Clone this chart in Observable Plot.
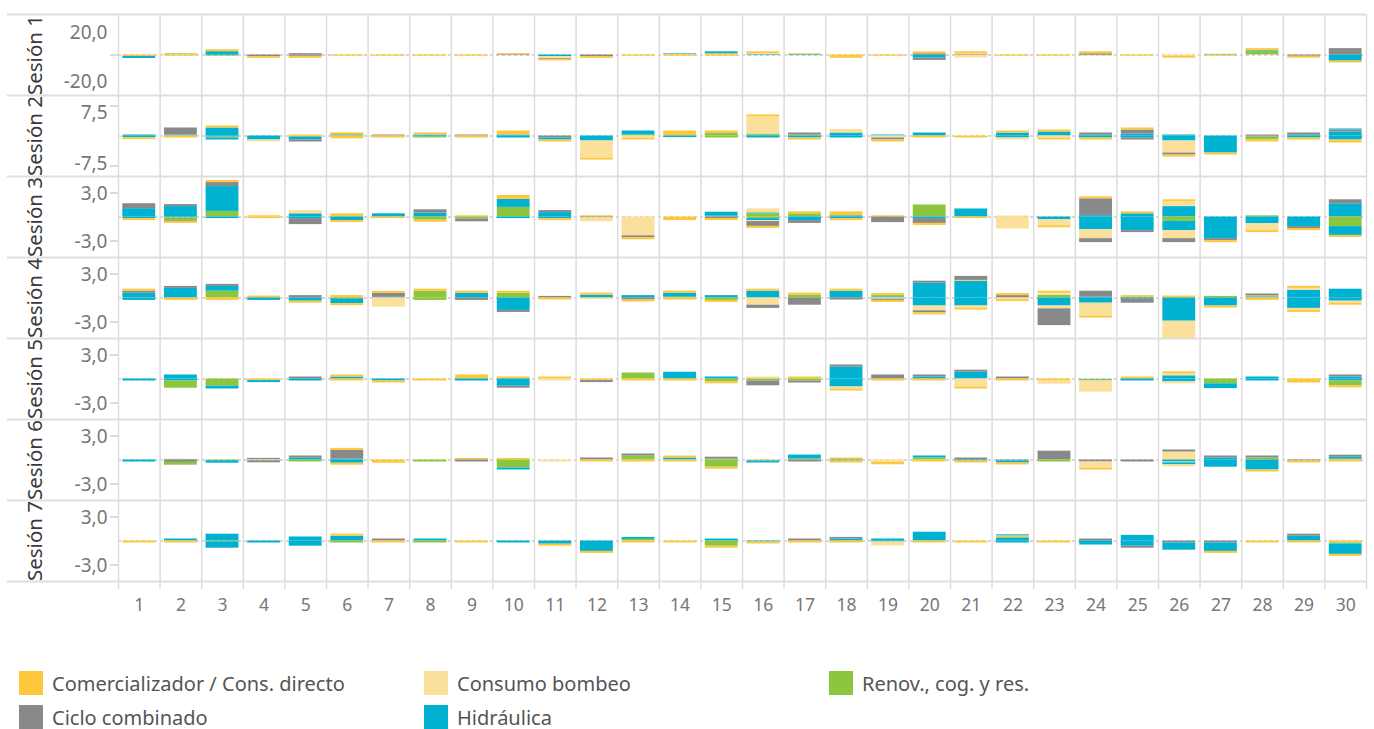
<!DOCTYPE html>
<html>
<head>
<meta charset="utf-8">
<script src="https://cdn.jsdelivr.net/npm/d3@7"></script>
<script src="https://cdn.jsdelivr.net/npm/@observablehq/plot@0.6"></script>
<style>
  body { margin: 0; background: #fff; font-family: 'Noto Sans', sans-serif; }
  #chart { padding-top: 14px; width: 1374px; }
  #chart svg { display: block; }
  #legend { display: grid; grid-template-columns: 405px 405px 405px; margin: 50px 0 0 19px; row-gap: 10px; }
  .item { display: flex; align-items: center; height: 24px; font-size: 20px; color: #555; white-space: nowrap; }
  .sw { width: 24px; height: 24px; margin-right: 9px; flex: none; }
</style>
</head>
<body>
<div id="chart"></div>
<div id="legend"></div>
<script>
// ---- categories ----
const days = d3.range(1, 31);
const categories = ["Comercializador / Cons. directo", "Consumo bombeo", "Renov., cog. y res.", "Ciclo combinado", "Hidráulica"];
const codes = ["Y", "B", "R", "G", "H"];
const colors = ["#fec83c", "#fae09b", "#8cc63f", "#898989", "#00b1d1"];
const sessions = ["Sesión 1", "Sesión 2", "Sesión 3", "Sesión 4", "Sesión 5", "Sesión 6", "Sesión 7"];

// ---- values: per day, segments listed from zero outward (code + value) ----
const sesion1 = ["Y-1.2 H-1.6","Y0.5 R0.5 Y-1","H2.7 Y1.6 H-0.5 R-0.5","G-1.4 Y-1.4","G1.1 G-1.1 Y-1.6","Y-1","Y-1","Y-1","Y-1","Y1.1 G-0.5",
  "H-1.4 B-1.6 G-0.6 Y-1.2","G-1.4 Y-1.4","Y-1","Y0.5 H0.5 Y-1","Y1 H1.6 Y-1","B1 Y1.6 H-0.5","Y1 H-0.5","Y-2.7","Y-1","G1 Y1.6 H-2.5 G-1.9",
  "B1 Y1.6 G-0.5 B-2","Y-1","Y-1","G1 Y1.6 G-0.5 B-0.5","Y-1","B-1 Y-1.6","H0.5 Y-1","R3.3 H0.5 Y1.4","G-1 Y-1.6","G5.2 H-5 Y-1.5"];
const sesion2 = ["H0.25 H-0.4 Y-0.5","H0.25 G1.75 Y-0.5","H2 Y0.5 H-0.25 R-0.25 H-0.5","H-1 B-0.5","Y0.25 Y-0.25 H-0.75 G-0.5","H0.3 Y0.5 Y-0.7","G0.25 Y-0.5","H0.25 Y0.5 H-0.25 R-0.25","G0.25 Y-0.5","H0.25 Y1 H-0.5",
  "G-0.5 H-0.5 Y-0.5","H-1.25 B-4.25 Y-0.5","R0.25 H1 B-0.5 Y-0.5","Y1.25 H-0.4","R0.75 Y0.5 R-0.5","H0.15 R0.35 B4.25 Y0.5 H-0.5","R0.25 G0.5 H-0.5 Y-0.5","H0.75 B0.5 Y0.25 H-0.5","H0.25 B-0.5 G-0.5 Y-0.5","H0.75 Y-0.5",
  "Y-0.5","H0.75 Y0.5 H-0.5 B-0.5","H1 Y0.5 B-0.5 Y-0.5","H0.25 G0.5 H-0.5 Y-0.5","H0.5 G1 Y0.5 H-0.5 G-0.5","H0.25 H-1.25 B-3 G-0.5 Y-0.5","H-4.25 Y-0.5","G0.25 G-0.25 R-0.75 Y-0.5","H0.25 G0.5 H-0.5 Y-0.5","H1 G0.5 H0.25 H-1 Y-0.75"];
const sesion3 = ["H1.04 G0.62 H-0.2 Y-0.25","H1.3 G0.25 H-0.1 R-0.35 G-0.1 Y-0.25","R0.7 H3.1 G0.5 Y0.25 H-0.2","Y0.15 Y-0.2","H0.4 B0.25 Y0.1 H-0.2 G-0.75","Y0.4 H-0.45 Y-0.25","H0.4 Y-0.2","H0.5 G0.4 R-0.4 Y-0.25","Y0.15 R-0.25 G-0.35","R1.2 H1 Y0.5 H-0.2",
  "H0.55 G0.25 H-0.2 Y-0.25","Y0.15 G-0.1 B-0.5","B-2.35 G-0.25 Y-0.25","Y-0.45","R0.1 H0.5 G-0.2 Y-0.25","R0.4 H0.12 B0.5 R-0.2 H-0.25 B-0.12 G-0.6 Y-0.25","R0.4 Y0.25 H-0.45 G-0.35","H0.15 Y0.5 H-0.2 Y-0.25","Y0.15 G-0.7","R1.5 H-0.2 G-0.6 Y-0.25",
  "H1 Y-0.2","Y0.1 B-1.5","H-0.35 B-0.75 Y-0.25","H0.17 G2.1 Y0.25 H-1.6 B-1.1 G-0.5","H0.4 Y0.25 H-1.7 G-0.25","H1.3 B0.6 Y0.25 R-0.55 H-1.15 B-1 G-0.5","H-2.7 G-0.25 Y-0.25","R0.15 H-0.85 B-0.85 Y-0.25","H-1.2 G-0.25 Y-0.25","H1.65 G0.5 R-1.2 H-1.1 Y-0.25"];
const sesion4 = ["R0.05 H0.55 G0.25 Y0.25 H-0.3","H1.2 G0.25 Y-0.3","R0.85 H0.6 G0.25 Y-0.3","Y0.25 H-0.3","G0.3 H-0.4 Y-0.25","Y0.3 R-0.1 H-0.6 Y-0.25","H0.08 G0.5 Y0.25 B-1.15","R0.85 Y0.25 R-0.3","H0.6 Y0.25 G-0.3","R0.6 Y0.25 H-1.55 G-0.25",
  "G0.2 Y-0.25","H0.35 Y0.25 B-0.2","H0.3 G-0.25 Y-0.25","R0.1 H0.5 Y0.25 Y-0.25","H0.3 R-0.3 Y-0.25","H0.85 Y0.25 B-0.9 G-0.4","R0.35 Y0.25 G-0.9","H0.85 Y0.25 G-0.25","H0.15 R0.15 Y0.25 B-0.15 G-0.15 Y-0.25","H1.85 G0.25 H-1 B-0.6 G-0.25 Y-0.25",
  "H2.1 Y0.1 G0.5 H-1 B-0.25 Y-0.25","G0.3 Y0.25 B-0.2 Y-0.25","R0.35 B0.25 Y0.25 H-1 B-0.35 G-2.1","H0.1 G0.75 H-0.65 B-1.6 Y-0.25","H0.05 Y0.25 H-0.15 G-0.5","Y0.25 H-2.9 B-2.25","R0.2 H-1 Y-0.25","H0.15 Y0.1 G0.25 Y-0.3","H0.95 B0.25 Y0.25 H-1.3 B-0.25 Y-0.25","H1.1 H-0.4 B-0.25 Y-0.25"];
const sesion5 = ["H-0.25","H0.5 H-0.25 R-0.9","R-0.9 H-0.35","Y-0.2 H-0.25","G0.25 H-0.25","H0.25 Y0.25 Y-0.25","H-0.25 Y-0.25","Y-0.25","Y0.5 H-0.25","Y0.25 H-0.9 G-0.25",
  "Y0.25 B-0.25","Y-0.2 G-0.25","R0.75 Y-0.25","H0.85 Y-0.25","H0.25 R-0.35 Y-0.25","B0.25 R-0.25 G-0.6","Y0.25 R-0.25 G-0.25","H1.5 G0.25 H-1 B-0.25 Y-0.25","G0.5 Y-0.25","H0.25 G0.25 Y-0.25",
  "H0.85 G0.25 B-1 Y-0.25","G0.25 Y-0.25","Y-0.25 B-0.4","Y-0.12 H-0.12 B-1.4","Y0.25 H-0.25","H0.4 B0.25 Y0.25 H-0.35 B-0.25","R-0.6 H-0.6","H0.25 H-0.25","Y-0.5","H0.25 G0.25 H-0.25 R-0.6 Y-0.25"];
const sesion6 = ["H-0.25","R0.08 G-0.3 R-0.35","R-0.1 H-0.3","G0.2 B-0.1 G-0.25","H0.25 G0.25 R-0.25","H0.1 G1.1 Y0.25 H-0.4 Y-0.25","Y-0.4","R-0.25","Y0.2 G-0.25","Y0.2 R-1 H-0.25",
  "B-0.25","G0.25 Y-0.25","R0.5 G0.25 Y-0.25","H0.25 Y0.25 Y-0.25","R0.1 G0.25 R-0.9 Y-0.25","Y-0.12 H-0.25","R0.12 H0.5 G-0.25","Y0.25 H-0.12 Y-0.25","B-0.25 Y-0.35","R0.25 H0.25 Y-0.25",
  "G0.25 H-0.12 Y-0.25","G-0.12 H-0.25 Y-0.25","G1.1 R-0.25","G-0.25 B-0.75 Y-0.25","G-0.25","B1 G0.25 H-0.25 Y-0.1 H-0.25 B-0.25","H0.25 G0.25 H-0.9","R0.25 G0.25 H-1.25 Y-0.25","G-0.12 Y-0.25","R0.1 H0.25 G0.25 Y-0.25"];
const sesion7 = ["Y-0.25","H0.25 Y-0.25","H0.85 R-0.1 H-0.8","H-0.25","H0.5 H-0.65","H0.6 Y0.25 R-0.25","G0.25 Y-0.25","H0.25 R-0.25","Y-0.25","H-0.25",
  "H-0.4 Y-0.25","H-1.3 Y-0.25","R0.2 H0.25 Y-0.25","Y-0.25","H0.25 R-0.65 Y-0.25","H-0.12 Y-0.25","G0.25 Y-0.25","H0.25 G0.2 Y-0.25","H0.25 H-0.12 B-0.5","H1.1 Y-0.25",
  "Y-0.25","H0.4 Y0.25 H0.12 H-0.25","Y-0.25","G0.25 H-0.5","H0.7 H-0.65 G-0.25","G-0.25 H-0.9","G-0.25 H-1.05 Y-0.25","Y-0.25","H0.6 G0.25 Y-0.25","Y-0.25 R-0.12 H-1.3 Y-0.25"];

const sessionValues = [sesion1, sesion2, sesion3, sesion4, sesion5, sesion6, sesion7];
const yLimits = [33.06, 10.1, 5.06, 5.06, 5.06, 5.06, 5.06];
const yTickValues = [[20, -20], [7.5, -7.5], [3, -3], [3, -3], [3, -3], [3, -3], [3, -3]];

// ---- build ----
const fmt = d => d.toFixed(1).replace(".", ",");
function parse(cells) {
  const out = [];
  cells.forEach((cell, i) => {
    cell.split(/\s+/).filter(Boolean).forEach(tok => {
      const code = tok[0];
      out.push({day: days[i], cat: categories[codes.indexOf(code)], value: +tok.slice(1)});
    });
  });
  return out;
}

const W = 1374, ML = 118, MR = 8, ROWH = 81;
const step = (W - ML - MR) / days.length;
const gridColor = "#dcdcdc";
const chart = document.getElementById("chart");

sessionValues.forEach((cells, i) => {
  const data = parse(cells);
  const lim = yLimits[i];
  const isLast = i === sessionValues.length - 1;
  const mb = isLast ? 40 : 0;
  const axisText = {tickSize: 0, tickPadding: 11, tickFormat: fmt, fill: "#777", fontSize: 19, label: null};
  const axisMarks = [];
  if (i === 0) {
    axisMarks.push(Plot.axisY([0], {tickSize: 8, tickFormat: () => "", stroke: "#b8b8b8", label: null}));
    axisMarks.push(Plot.axisY(yTickValues[i], {...axisText, dy: 2}));
  } else if (i === 1) {
    axisMarks.push(Plot.axisY(yTickValues[i], {tickSize: 8, tickFormat: () => "", stroke: "#b8b8b8", label: null}));
    axisMarks.push(Plot.axisY([yTickValues[i][0]], {...axisText, dy: 7}));
    axisMarks.push(Plot.axisY([yTickValues[i][1]], {...axisText, dy: -2}));
  } else {
    axisMarks.push(Plot.axisY(yTickValues[i], {tickSize: 8, tickFormat: () => "", stroke: "#b8b8b8", label: null}));
    axisMarks.push(Plot.axisY(yTickValues[i], {...axisText, dy: 1}));
  }
  if (isLast) axisMarks.push(Plot.axisX({tickSize: 0, tickPadding: 17, fontSize: 17.5, fill: "#777", label: null}));

  const svg = Plot.plot({
    width: W,
    height: ROWH + mb,
    marginLeft: ML,
    marginRight: MR,
    marginTop: 0,
    marginBottom: mb,
    style: {background: "transparent", overflow: "visible", fontFamily: "'Noto Sans', sans-serif"},
    x: {type: "band", domain: days, paddingInner: 0.21, paddingOuter: 0.105, round: false, axis: null},
    y: {domain: [-lim, lim], label: null},
    color: {domain: categories, range: colors},
    marks: [
      Plot.ruleY([0], {stroke: "#c9c9c9", strokeWidth: 1.5, strokeDasharray: "3,3"}),
      Plot.barY(data, {x: "day", y: "value", fill: "cat"}),
      Plot.ruleX(days, {x: d => d, dx: -step / 2, stroke: gridColor, strokeWidth: 1.5, insetBottom: isLast ? -8 : 0}),
      Plot.ruleX([days[days.length - 1]], {x: d => d, dx: step / 2, stroke: gridColor, strokeWidth: 1.5, insetBottom: isLast ? -8 : 0}),
      Plot.ruleY([lim], {stroke: "#dedede", strokeWidth: 2, insetLeft: -111}),
      isLast ? Plot.ruleY([-lim], {stroke: "#dedede", strokeWidth: 2, insetLeft: -111}) : null,
      Plot.text([sessions[i]], {frameAnchor: "left", textAnchor: "middle", lineAnchor: "middle", dx: -83, rotate: -90, fontSize: 20.5, fill: "#3a3a3a"}),
      ...axisMarks
    ]
  });
  chart.appendChild(svg);
});

// ---- legend ----
const legend = document.getElementById("legend");
categories.forEach((c, k) => {
  const item = document.createElement("div");
  item.className = "item";
  const sw = document.createElement("span");
  sw.className = "sw";
  sw.style.background = colors[k];
  item.appendChild(sw);
  item.appendChild(document.createTextNode(c));
  legend.appendChild(item);
});
</script>
</body>
</html>
